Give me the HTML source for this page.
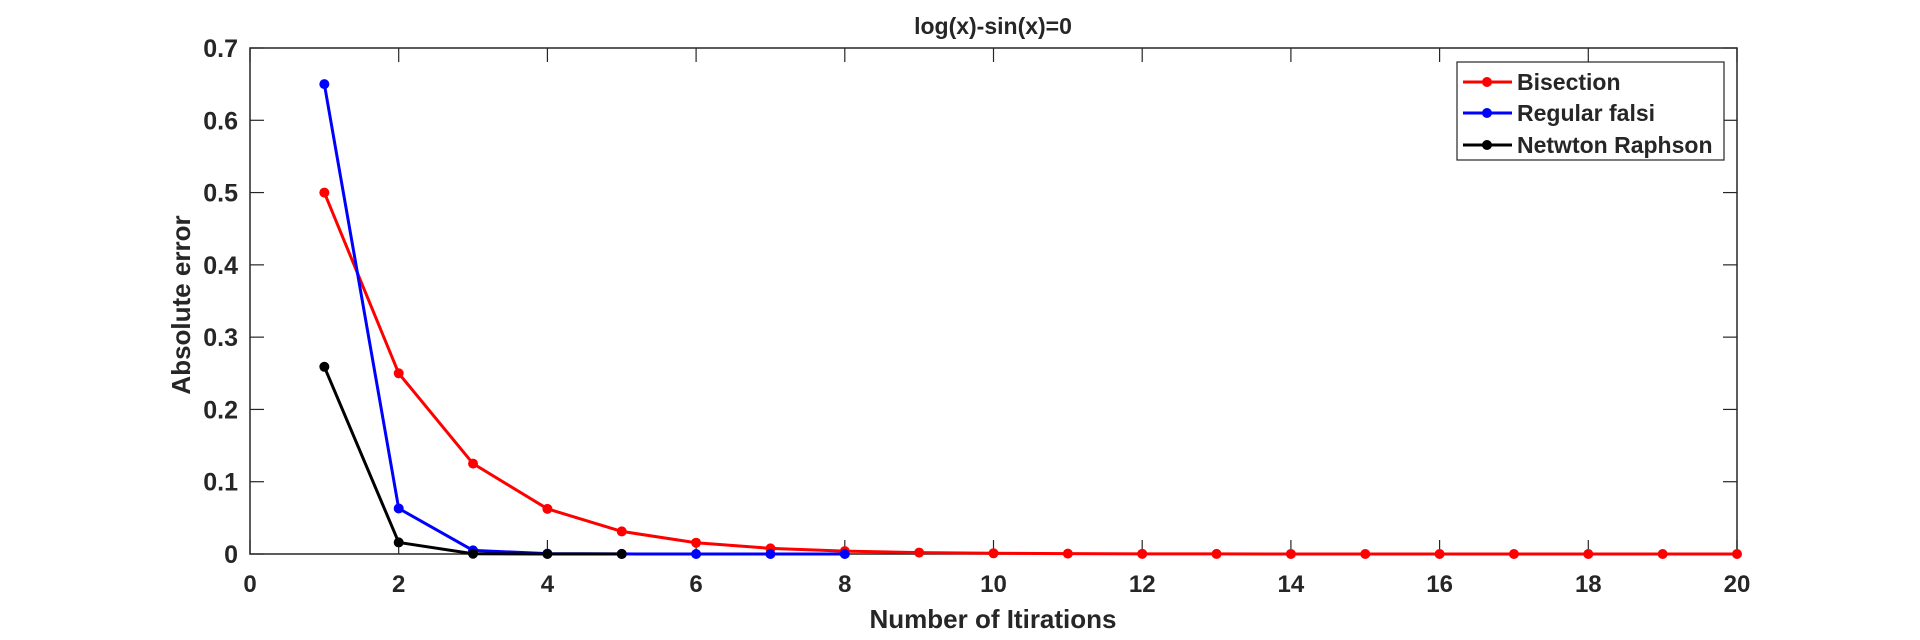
<!DOCTYPE html>
<html><head><meta charset="utf-8"><style>
body{margin:0;background:#fff;}
svg text{font-family:"Liberation Sans",Arial,sans-serif;font-weight:bold;fill:#262626;}
</style></head><body>
<svg id="chart" width="1920" height="635" viewBox="0 0 1920 635" xmlns="http://www.w3.org/2000/svg">
<rect x="0" y="0" width="1920" height="635" fill="#fff"/>
<rect x="250" y="48" width="1487" height="506" fill="none" stroke="#262626" stroke-width="1.5"/>
<g id="axes"></g>
<g id="series"></g>
<text x="993" y="34" font-size="23" text-anchor="middle" fill="#000">log(x)-sin(x)=0</text>
<text x="993" y="628" font-size="26" text-anchor="middle">Number of Itirations</text>
<text x="0" y="0" font-size="26" text-anchor="middle" transform="translate(190,305) rotate(-90)">Absolute error</text>
<g>
<rect x="1457" y="62" width="267" height="98" fill="#fff" stroke="#262626" stroke-width="1.2"/>
<g>
<line x1="1463" y1="82" x2="1512" y2="82" stroke="#ff0000" stroke-width="3"/><circle cx="1487" cy="82" r="5" fill="#ff0000"/>
<text x="1517" y="90" font-size="23" fill="#000">Bisection</text></g>
<g>
<line x1="1463" y1="113" x2="1512" y2="113" stroke="#0000ff" stroke-width="3"/><circle cx="1487" cy="113" r="5" fill="#0000ff"/>
<text x="1517" y="121" font-size="23" fill="#000">Regular falsi</text></g>
<g>
<line x1="1463" y1="145" x2="1512" y2="145" stroke="#000" stroke-width="3"/><circle cx="1487" cy="145" r="5" fill="#000"/>
<text x="1517" y="153" font-size="23" fill="#000">Netwton Raphson</text></g>
</g>
</svg>
<script>
const xTicks = [0,2,4,6,8,10,12,14,16,18,20];
const yTicks = [0,0.1,0.2,0.3,0.4,0.5,0.6,0.7];
const yTickLabels = ["0","0.1","0.2","0.3","0.4","0.5","0.6","0.7"];
const bisection = [0.5,0.25,0.125,0.0625,0.03125,0.015625,0.0078,0.0039,0.00195,0.00098,0.00049,0.00024,0.00012,0.00006,0.00003,0.000015,0.0000076,0.0000038,0.0000019,0.00000095];
const regularFalsi = [0.65,0.063,0.005,0.0005,0.0001,0.00001,0.000001,0.0000001];
const newton = [0.259,0.016,0.0004,0.00001,0.000001];

const NS = "http://www.w3.org/2000/svg";
const X0 = 250, X1 = 1737, Y0 = 554, Y1 = 48;
function sx(v){ return X0 + (v - 0) / 20 * (X1 - X0); }
function sy(v){ return Y0 - v / 0.7 * (Y0 - Y1); }
function mk(tag, attrs){ const e = document.createElementNS(NS, tag); for (const k in attrs) e.setAttribute(k, attrs[k]); return e; }

const axes = document.getElementById('axes');
xTicks.forEach(function(t){
  const x = sx(t);
  const l1 = mk('line', {x1:x, y1:Y0, x2:x, y2:Y0-14, stroke:'#262626', 'stroke-width':1.2});
  
  
  axes.appendChild(l1);
  const l2 = mk('line', {x1:x, y1:Y1, x2:x, y2:Y1+14, stroke:'#262626', 'stroke-width':1.2});
  
  
  axes.appendChild(l2);
  const tx = mk('text', {x:x, y:Y0+38, 'font-size':24, 'text-anchor':'middle'});
  tx.textContent = String(t);
  
  
  axes.appendChild(tx);
});
yTicks.forEach(function(t, i){
  const y = sy(t);
  const l1 = mk('line', {x1:X0, y1:y, x2:X0+14, y2:y, stroke:'#262626', 'stroke-width':1.2});
  
  
  axes.appendChild(l1);
  const l2 = mk('line', {x1:X1, y1:y, x2:X1-14, y2:y, stroke:'#262626', 'stroke-width':1.2});
  
  
  axes.appendChild(l2);
  const tx = mk('text', {x:X0-12, y:y+9, 'font-size':25, 'text-anchor':'end'});
  tx.textContent = yTickLabels[i];
  
  
  axes.appendChild(tx);
});

const series = document.getElementById('series');
function drawSeries(vals, color, name){
  const g = mk('g', {});
  
  
  const pts = vals.map(function(v, i){ return sx(i+1) + ',' + sy(v); }).join(' ');
  const pl = mk('polyline', {points:pts, fill:'none', stroke:color, 'stroke-width':3, 'stroke-linejoin':'round'});
  
  
  g.appendChild(pl);
  vals.forEach(function(v, i){
    const c = mk('circle', {cx:sx(i+1), cy:sy(v), r:5, fill:color});
    
    
    g.appendChild(c);
  });
  series.appendChild(g);
}
drawSeries(bisection, '#ff0000', 'bisection');
drawSeries(regularFalsi, '#0000ff', 'regular-falsi');
drawSeries(newton, '#000000', 'newton-raphson');
</script>
</body></html>
